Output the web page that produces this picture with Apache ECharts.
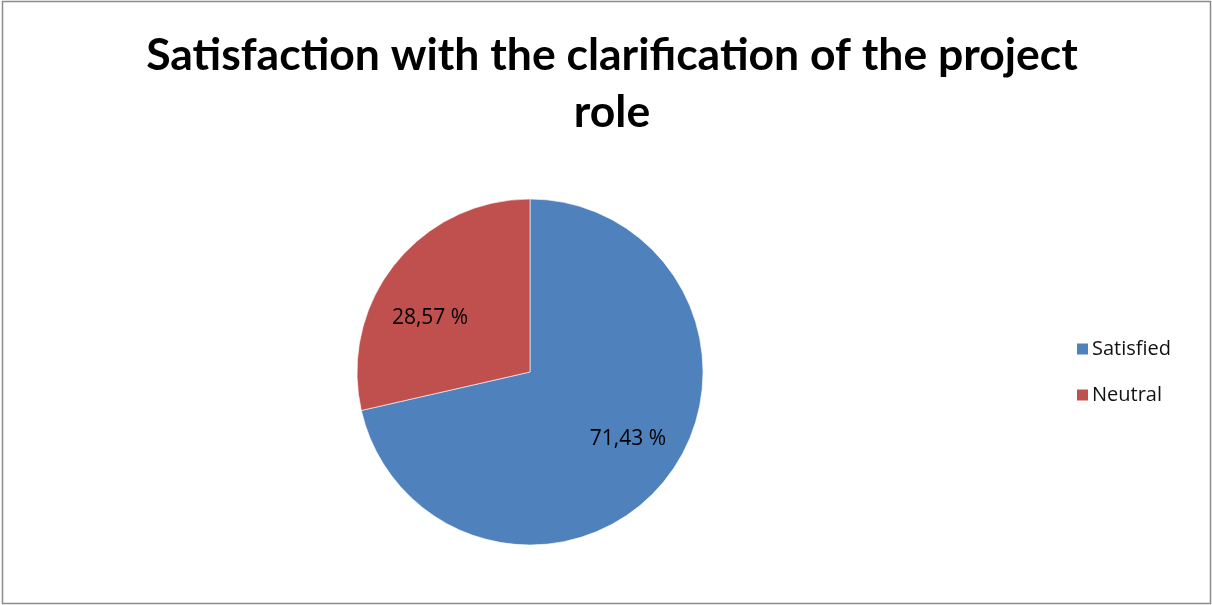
<!DOCTYPE html>
<html>
<head>
<meta charset="utf-8">
<script src="https://cdn.jsdelivr.net/npm/echarts@6/dist/echarts.min.js"></script>
<style>
  html, body { margin: 0; padding: 0; background: #fff; }
  #chart { width: 1212px; height: 605px; }
</style>
</head>
<body>
<div id="chart"></div>
<script>
// Survey answers on how well the project role was clarified
const categories = ['Satisfied', 'Neutral'];
const shares = [71.43, 28.57];
const sliceColors = ['#4F81BD', '#C0504D'];
const titleText = 'Satisfaction with the clarification of the project\nrole';

// Per-slice nudges of the percentage labels away from the mid-radius spot
const labelOffsets = [[28, 11], [-30, 2]];

const fmtPercent = v => v.toFixed(2).replace('.', ',') + ' %';

const chart = echarts.init(document.getElementById('chart'), null, { renderer: 'canvas' });

chart.setOption({
  backgroundColor: '#ffffff',
  animation: false,
  title: {
    text: titleText,
    left: 607,
    top: 22,
    textAlign: 'center',
    textStyle: {
      fontFamily: 'Lato',
      fontWeight: 'bold',
      fontSize: 44.5,
      lineHeight: 57,
      color: '#000000'
    }
  },
  legend: {
    orient: 'vertical',
    left: 1070,
    top: 334,
    icon: 'rect',
    itemWidth: 13,
    itemHeight: 13,
    itemGap: 26,
    data: categories,
    textStyle: {
      fontFamily: 'Open Sans',
      fontSize: 20,
      color: '#111111',
      padding: [0, 0, 0, -2]
    }
  },
  graphic: [{
    type: 'rect',
    shape: { x: 2.5, y: 1.5, width: 1208, height: 602 },
    style: { fill: 'none', stroke: '#8c8c8c', lineWidth: 1.5 },
    silent: true,
    z: 100
  }],
  series: [{
    type: 'pie',
    center: [530, 372],
    radius: 173,
    startAngle: 90,
    clockwise: true,
    avoidLabelOverlap: false,
    itemStyle: { borderColor: '#ffffff', borderWidth: 0.6 },
    label: {
      show: true,
      position: 'inside',
      fontFamily: 'Open Sans',
      fontSize: 21,
      color: '#000000',
      formatter: p => fmtPercent(p.value)
    },
    labelLine: { show: false },
    emphasis: { disabled: true },
    data: categories.map((name, i) => ({
      name,
      value: shares[i],
      itemStyle: { color: sliceColors[i] },
      label: { offset: labelOffsets[i] }
    }))
  }]
});
</script>
</body>
</html>
